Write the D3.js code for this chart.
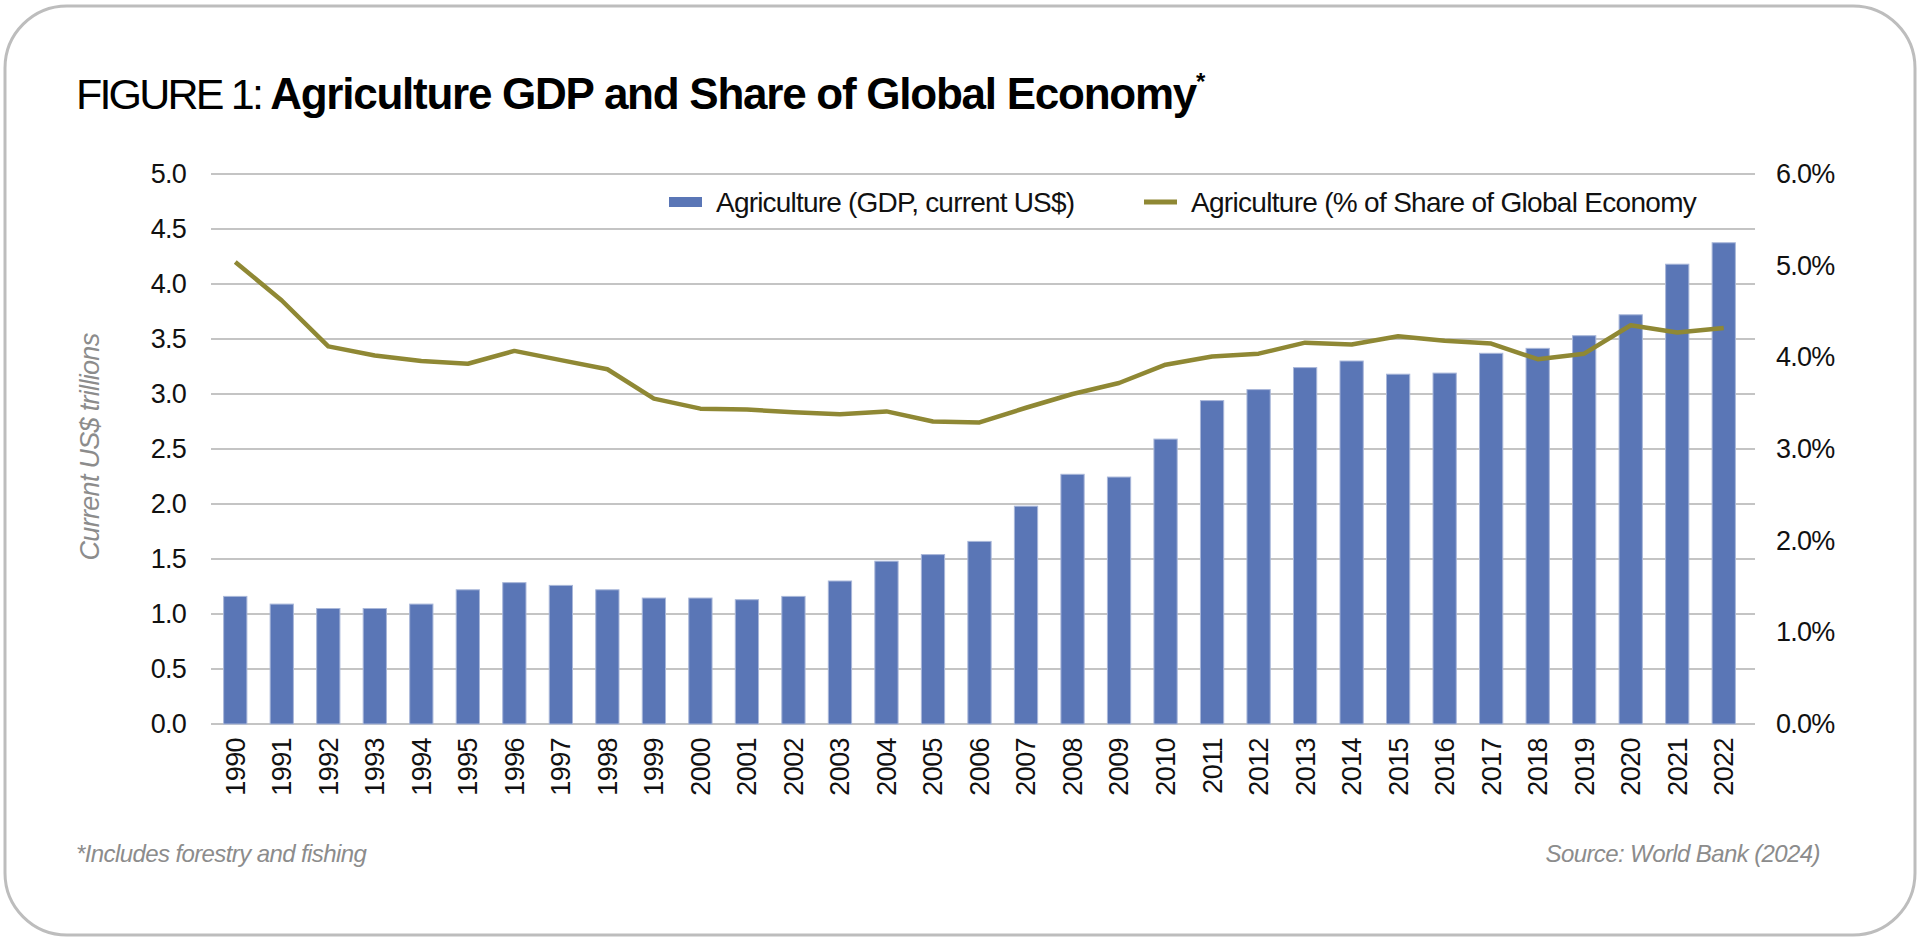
<!DOCTYPE html>
<html>
<head>
<meta charset="utf-8">
<script src="https://cdn.jsdelivr.net/npm/d3@7"></script>
<style>
  body { margin: 0; background: #fff; }
  text { font-family: "Liberation Sans", Arial, sans-serif; }
</style>
</head>
<body>
<svg id="chart"></svg>
<script>
// Chart data
const years = ['1990', '1991', '1992', '1993', '1994', '1995', '1996', '1997', '1998', '1999',
  '2000', '2001', '2002', '2003', '2004', '2005', '2006', '2007', '2008', '2009',
  '2010', '2011', '2012', '2013', '2014', '2015', '2016', '2017', '2018', '2019',
  '2020', '2021', '2022'];
// Agriculture GDP, current US$ trillions
const gdp = [1.16, 1.09, 1.05, 1.05, 1.09, 1.22, 1.285, 1.26, 1.22, 1.145,
  1.145, 1.13, 1.16, 1.30, 1.48, 1.54, 1.66, 1.98, 2.27, 2.245,
  2.59, 2.94, 3.04, 3.24, 3.30, 3.18, 3.19, 3.37, 3.415, 3.53,
  3.72, 4.18, 4.375];
// Agriculture share of global economy, %
const share = [5.04, 4.62, 4.12, 4.02, 3.96, 3.93, 4.07, 3.97, 3.87, 3.55,
  3.44, 3.43, 3.40, 3.38, 3.41, 3.30, 3.29, 3.45, 3.60, 3.72,
  3.92, 4.01, 4.04, 4.16, 4.14, 4.23, 4.18, 4.15, 3.98, 4.04,
  4.35, 4.27, 4.32];
// Axis ticks
const leftTicks = [0, 0.5, 1, 1.5, 2, 2.5, 3, 3.5, 4, 4.5, 5];
const rightTicks = [0, 1, 2, 3, 4, 5, 6];

const W = 1920, H = 943;
const barColor = '#5a76b6';
const lineColor = '#8f8834';
const grey = '#8c8c8c';

const svg = d3.select('#chart')
    .attr('width', W)
    .attr('height', H);

// Rounded frame
svg.append('rect')
    .attr('x', 5).attr('y', 6)
    .attr('width', 1910).attr('height', 929)
    .attr('rx', 62).attr('ry', 62)
    .attr('fill', '#fff')
    .attr('stroke', '#bdbdbd')
    .attr('stroke-width', 3);

// Title: light prefix, bold headline, superscript asterisk in one text
const title = svg.append('text')
    .attr('x', 76).attr('y', 109)
    .attr('fill', '#000');
title.append('tspan')
    .style('font-size', '43px')
    .style('font-weight', 300)
    .style('letter-spacing', '-2.8px')
    .text('FIGURE 1: ');
title.append('tspan')
    .style('font-size', '44px')
    .style('font-weight', 'bold')
    .style('letter-spacing', '-1.25px')
    .text('Agriculture GDP and Share of Global Economy');
title.append('tspan')
    .attr('dy', -19)
    .style('font-size', '24px')
    .style('font-weight', 'bold')
    .text('*');

// Scales
const x = d3.scaleBand()
    .domain(years)
    .range([212, 1747])
    .paddingInner(0.5)
    .paddingOuter(0.25);

const yLeft = d3.scaleLinear()
    .domain([0, 5])
    .range([724, 174]);

const yRight = d3.scaleLinear()
    .domain([0, 6])
    .range([724, 174]);

// Gridlines
svg.append('g')
    .selectAll('line')
    .data(leftTicks)
  .enter().append('line')
    .attr('x1', 211).attr('x2', 1755)
    .attr('y1', d => yLeft(d)).attr('y2', d => yLeft(d))
    .attr('stroke', '#c4c4c4')
    .attr('stroke-width', 2);

// Left axis labels
const leftAxis = svg.append('g')
    .attr('transform', 'translate(186,0)')
    .call(d3.axisLeft(yLeft).tickValues(leftTicks).tickFormat(d3.format('.1f')).tickSize(0).tickPadding(0));
leftAxis.select('.domain').remove();
leftAxis.selectAll('text')
    .attr('fill', '#111')
    .style('font-size', '27px')
    .style('letter-spacing', '-0.8px');

// Right axis labels
const rightAxis = svg.append('g')
    .attr('transform', 'translate(1776,0)')
    .call(d3.axisRight(yRight).tickValues(rightTicks).tickFormat(d => d3.format('.1f')(d) + '%').tickSize(0).tickPadding(0));
rightAxis.select('.domain').remove();
rightAxis.selectAll('text')
    .attr('fill', '#111')
    .style('font-size', '27px')
    .style('letter-spacing', '-0.8px');

// Bars
svg.append('g')
    .selectAll('rect')
    .data(years)
  .enter().append('rect')
    .attr('x', d => x(d))
    .attr('width', x.bandwidth())
    .attr('y', (d, i) => yLeft(gdp[i]))
    .attr('height', (d, i) => yLeft(0) - yLeft(gdp[i]))
    .attr('fill', barColor)
    .attr('stroke', '#a9b7d9')
    .attr('stroke-width', 1);

// Share line
const line = d3.line()
    .x((d, i) => x(years[i]) + x.bandwidth() / 2)
    .y(d => yRight(d));

svg.append('path')
    .datum(share)
    .attr('d', line)
    .attr('fill', 'none')
    .attr('stroke', lineColor)
    .attr('stroke-width', 4.5)
    .attr('stroke-linejoin', 'round');

// X axis labels (rotated)
const xAxis = svg.append('g')
    .attr('transform', 'translate(0,738)')
    .call(d3.axisBottom(x).tickSize(0).tickPadding(0));
xAxis.select('.domain').remove();
xAxis.selectAll('text')
    .attr('transform', 'rotate(-90)')
    .attr('text-anchor', 'end')
    .attr('x', 0)
    .attr('y', 0)
    .attr('dy', '0.35em')
    .attr('fill', '#111')
    .style('font-size', '27px')
    .style('letter-spacing', '-0.6px');

// Y axis title
svg.append('text')
    .attr('transform', 'translate(99,447) rotate(-90)')
    .attr('text-anchor', 'middle')
    .attr('fill', grey)
    .style('font-size', '27px')
    .style('font-style', 'italic')
    .style('letter-spacing', '-0.7px')
    .text('Current US$ trillions');

// Legend
const legend = svg.append('g');
legend.append('rect')
    .attr('x', 669).attr('y', 197)
    .attr('width', 33).attr('height', 10)
    .attr('fill', barColor);
legend.append('text')
    .attr('x', 716).attr('y', 212)
    .attr('fill', '#111')
    .style('font-size', '28px')
    .style('letter-spacing', '-0.8px')
    .text('Agriculture (GDP, current US$)');
legend.append('line')
    .attr('x1', 1144).attr('x2', 1177)
    .attr('y1', 202).attr('y2', 202)
    .attr('stroke', lineColor)
    .attr('stroke-width', 5);
legend.append('text')
    .attr('x', 1191).attr('y', 212)
    .attr('fill', '#111')
    .style('font-size', '28px')
    .style('letter-spacing', '-0.7px')
    .text('Agriculture (% of Share of Global Economy');

// Footnotes
svg.append('text')
    .attr('x', 76).attr('y', 862)
    .attr('fill', grey)
    .style('font-size', '24px')
    .style('font-style', 'italic')
    .style('letter-spacing', '-0.6px')
    .text('*Includes forestry and fishing');

svg.append('text')
    .attr('x', 1820).attr('y', 862)
    .attr('text-anchor', 'end')
    .attr('fill', grey)
    .style('font-size', '24px')
    .style('font-style', 'italic')
    .style('letter-spacing', '-0.6px')
    .text('Source: World Bank (2024)');
</script>
</body>
</html>
